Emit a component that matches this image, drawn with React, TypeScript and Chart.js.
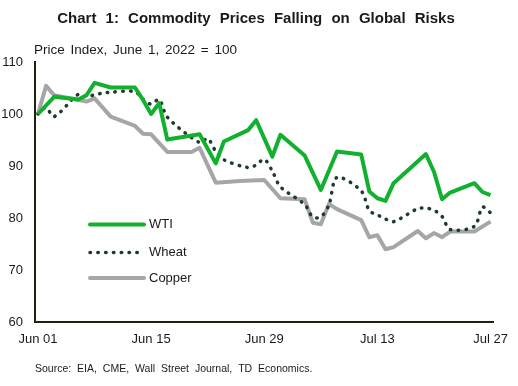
import React, { useEffect, useRef } from 'react';
import { Chart, registerables } from 'chart.js';

Chart.register(...registerables);

const tickDays = [0, 14, 28, 42, 56];
const tickLabels = ['Jun 01', 'Jun 15', 'Jun 29', 'Jul 13', 'Jul 27'];

const wtiDays = [0, 2, 5, 6, 7, 9, 12, 13, 14, 15, 16, 20, 22, 23, 26, 27, 29, 30, 33, 35, 37, 40, 41, 42, 43, 44, 48, 49, 50, 51, 54, 55, 56];
const wtiValues = [100, 103.3, 102.8, 103.6, 106, 105.1, 105.1, 102.7, 100, 102.1, 95.1, 96.1, 90.5, 94.7, 96.9, 98.8, 91.8, 96, 92, 85.4, 92.8, 92.2, 85.1, 83.8, 83.3, 86.7, 92.3, 88.9, 83.6, 84.9, 86.7, 85.0, 84.4];

const wheatDays = [0, 1, 2, 5, 6, 7, 8, 9, 12, 13, 14, 15, 16, 20, 21, 22, 23, 26, 27, 28, 29, 30, 33, 34, 35, 36, 37, 40, 41, 42, 43, 44, 47, 48, 49, 50, 51, 54, 55, 56];
const wheatValues = [100, 101.2, 99.5, 103.8, 103.3, 103.7, 104, 104.2, 104.3, 102.8, 101.9, 102.8, 99.4, 94.5, 95.3, 92.8, 91.2, 89.7, 90.2, 91.3, 89, 86, 82.6, 80.2, 80.2, 82.5, 87.8, 85.2, 81.4, 80.6, 79.8, 79.3, 81.8, 81.9, 81.5, 80.3, 77.8, 78.4, 82.1, 81];

const copperDays = [0, 1, 2, 6, 7, 9, 12, 13, 14, 16, 19, 20, 22, 25, 28, 30, 33, 34, 35, 36, 37, 40, 41, 42, 43, 44, 47, 48, 49, 50, 51, 54, 56];
const copperValues = [100, 105.4, 103.6, 102.4, 103, 99.5, 97.7, 96.2, 96.1, 92.7, 92.7, 93.5, 86.8, 87.1, 87.3, 83.8, 83.6, 79.1, 78.8, 82.7, 81.7, 79.6, 76.3, 76.7, 74, 74.4, 77.5, 76.1, 77.1, 76.3, 77.4, 77.4, 79.3];

const seriesNames = ['WTI', 'Wheat', 'Copper'];
const titleText = 'Chart 1: Commodity Prices Falling on Global Risks';
const subtitleText = 'Price Index, June 1, 2022 = 100';
const sourceText = 'Source: EIA, CME, Wall Street Journal, TD Economics.';

const GREEN = '#12b02f';
const DARK = '#1d3a2b';
const GRAY = '#a6a6a6';
const FONT = '"Liberation Sans", Arial, sans-serif';

const toPoints = (days: number[], vals: number[]) => days.map((d, i) => ({ x: d, y: vals[i] }));

const textPlugin = {
  id: 'textPlugin',
  afterDraw(chart: any) {
    const ctx = chart.ctx;
    ctx.save();
    ctx.fillStyle = '#1a1a1a';
    ctx.textBaseline = 'middle';
    ctx.font = `bold 15px ${FONT}`;
    ctx.textAlign = 'center';
    ctx.wordSpacing = '5px';
    ctx.fillText(titleText, 256, 19);
    ctx.font = `13.5px ${FONT}`;
    ctx.textAlign = 'left';
    ctx.wordSpacing = '2px';
    ctx.fillText(subtitleText, 34, 50);
    ctx.font = `10.5px ${FONT}`;
    ctx.wordSpacing = '3px';
    ctx.fillText(sourceText, 35, 369);
    ctx.wordSpacing = '0px';

    // legend
    const items = [
      { color: GREEN, dash: [], width: 4 },
      { color: DARK, dash: [0.5, 7.3], width: 3.5 },
      { color: GRAY, dash: [], width: 4 },
    ];
    const ys = [224.5, 252.5, 278];
    items.forEach((it, i) => {
      ctx.beginPath();
      ctx.strokeStyle = it.color;
      ctx.lineWidth = it.width;
      ctx.lineCap = 'round';
      ctx.setLineDash(it.dash);
      ctx.moveTo(90, ys[i]);
      ctx.lineTo(144, ys[i]);
      ctx.stroke();
      ctx.setLineDash([]);
      ctx.font = `13px ${FONT}`;
      ctx.fillStyle = '#1a1a1a';
      ctx.fillText(seriesNames[i], 149, ys[i]);
    });
    ctx.restore();
  },
};

export default function App() {
  const canvasRef = useRef<HTMLCanvasElement | null>(null);

  useEffect(() => {
    document.body.style.margin = '0';
    const canvas = canvasRef.current;
    if (!canvas) return;
    const chart = new Chart(canvas, {
      type: 'line',
      data: {
        datasets: [
          {
            label: seriesNames[2],
            data: toPoints(copperDays, copperValues),
            borderColor: GRAY,
            borderWidth: 4,
            pointRadius: 0,
            tension: 0,
            borderJoinStyle: 'round',
            order: 3,
          },
          {
            label: seriesNames[1],
            data: toPoints(wheatDays, wheatValues),
            borderColor: DARK,
            borderWidth: 3.5,
            borderDash: [0.5, 7.3],
            borderCapStyle: 'round',
            pointRadius: 0,
            tension: 0.3,
            order: 2,
          },
          {
            label: seriesNames[0],
            data: toPoints(wtiDays, wtiValues),
            borderColor: GREEN,
            borderWidth: 4,
            pointRadius: 0,
            tension: 0,
            borderJoinStyle: 'round',
            order: 1,
          },
        ],
      },
      options: {
        animation: false,
        responsive: true,
        maintainAspectRatio: false,
        layout: { padding: { top: 62, right: 17, bottom: 0, left: 0 } },
        plugins: {
          legend: { display: false },
          tooltip: { enabled: false },
          title: { display: false },
        },
        scales: {
          x: {
            type: 'linear',
            min: -0.37,
            max: 56.37,
            afterBuildTicks: (scale: any) => {
              scale.ticks = tickDays.map((v) => ({ value: v }));
            },
            afterFit: (scale: any) => {
              scale.height = 64;
            },
            grid: { display: false, drawTicks: false },
            border: { display: true, color: '#1f1f14', width: 2 },
            ticks: {
              autoSkip: false,
              maxRotation: 0,
              padding: 10,
              color: '#1a1a1a',
              font: { family: FONT, size: 13 },
              callback: (v: any) => {
                const i = tickDays.indexOf(Number(v));
                return i >= 0 ? tickLabels[i] : '';
              },
            },
          },
          y: {
            min: 60,
            max: 110,
            afterFit: (scale: any) => {
              scale.width = 35;
            },
            grid: { display: false, drawTicks: false },
            border: { display: true, color: '#1f1f14', width: 2 },
            ticks: {
              stepSize: 10,
              padding: 12,
              color: '#1a1a1a',
              font: { family: FONT, size: 13 },
            },
          },
        },
      },
      plugins: [textPlugin],
    });
    return () => chart.destroy();
  }, []);

  return (
    <div style={{ width: 518, height: 386, position: 'relative' }}>
      <canvas ref={canvasRef} />
    </div>
  );
}
